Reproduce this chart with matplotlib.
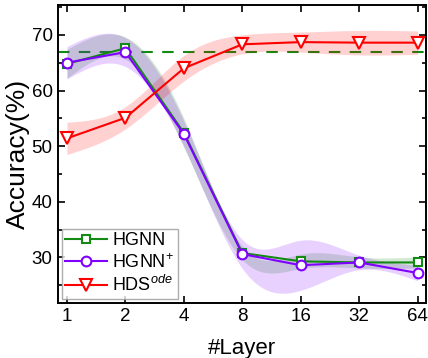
import numpy as np
import matplotlib
matplotlib.use('Agg')
import matplotlib.pyplot as plt
from matplotlib.ticker import MultipleLocator

plt.rcParams['font.family'] = ['Liberation Sans', 'DejaVu Sans']
plt.rcParams['mathtext.fontset'] = 'custom'
plt.rcParams['mathtext.rm'] = 'Liberation Sans'
plt.rcParams['mathtext.it'] = 'Liberation Sans:italic'

# data
layers = ['1', '2', '4', '8', '16', '32', '64']
hgnn = [64.8, 67.6, 52.4, 30.8, 29.3, 29.1, 29.1]
hgnn_std = [2.6, 2.0, 2.6, 1.2, 1.3, 1.0, 1.0]
hgnn_plus = [65.0, 66.9, 52.2, 30.6, 28.6, 29.1, 27.2]
hgnn_plus_std = [2.9, 2.6, 2.3, 2.6, 4.5, 1.3, 1.4]
hds_ode = [51.4, 55.1, 64.0, 68.3, 68.7, 68.6, 68.6]
hds_ode_std = [2.9, 2.0, 2.3, 1.7, 1.8, 2.2, 2.1]
baseline = 67.0


def smooth(x, y, n=300):
    # natural cubic spline, only used to draw the shaded bands
    x = np.asarray(x, float)
    y = np.asarray(y, float)
    k = len(x)
    h = np.diff(x)
    A = np.zeros((k, k))
    b = np.zeros(k)
    A[0, 0] = A[-1, -1] = 1
    for i in range(1, k - 1):
        A[i, i - 1] = h[i - 1]
        A[i, i] = 2 * (h[i - 1] + h[i])
        A[i, i + 1] = h[i]
        b[i] = 6 * ((y[i + 1] - y[i]) / h[i] - (y[i] - y[i - 1]) / h[i - 1])
    m = np.linalg.solve(A, b)
    xs = np.linspace(x[0], x[-1], n)
    idx = np.clip(np.searchsorted(x, xs) - 1, 0, k - 2)
    t = xs - x[idx]
    hi = h[idx]
    a = (m[idx + 1] - m[idx]) / (6 * hi)
    bb = m[idx] / 2
    c = (y[idx + 1] - y[idx]) / hi - hi * (2 * m[idx] + m[idx + 1]) / 6
    return xs, y[idx] + c * t + bb * t ** 2 + a * t ** 3


fig, ax = plt.subplots(figsize=(4.28, 3.58), dpi=100)
fig.subplots_adjust(left=0.136, right=0.995, top=0.985, bottom=0.155)

x = np.arange(len(layers))
series = [
    ('HGNN', hgnn, hgnn_std, '#138a13', 's', 6),
    ('HGNN$^{+}$', hgnn_plus, hgnn_plus_std, '#8000ff', 'o', 7),
    ('HDS$^{ode}$', hds_ode, hds_ode_std, '#ff0000', 'v', 8),
]

for name, vals, std, col, mk, ms in series:
    v = np.array(vals)
    s = np.array(std)
    xs, lo = smooth(x, v - s)
    _, up = smooth(x, v + s)
    ax.fill_between(xs, lo, up, color=col, alpha=0.18, linewidth=0, zorder=1)

# dashed reference line sits under the bands
ax.axhline(baseline, color='#138a13', linestyle=(0, (5.5, 4.5)), linewidth=1.5, zorder=0.5)

for name, vals, std, col, mk, ms in series:
    ax.plot(x, vals, color=col, marker=mk, markersize=ms,
            markerfacecolor='white', markeredgecolor=col, markeredgewidth=1.5,
            linewidth=1.5, label=name, zorder=3)

ax.set_xlim(-0.15, 6.14)
ax.set_ylim(21.9, 75.3)
ax.set_xticks(x)
ax.set_xticklabels(layers)
ax.yaxis.set_major_locator(MultipleLocator(10))
ax.yaxis.set_minor_locator(MultipleLocator(5))
ax.tick_params(which='both', direction='in', top=True, right=True, labelsize=13.5, width=1.2)
ax.tick_params(which='major', length=5, pad=4)
ax.tick_params(which='minor', length=3)
for sp in ax.spines.values():
    sp.set_linewidth(1.4)

ax.set_xlabel('#Layer', fontsize=16, labelpad=9)
ax.set_ylabel('Accuracy(%)', fontsize=19, labelpad=1)

leg = ax.legend(loc='lower left', fontsize=13, handlelength=2.3, handletextpad=0.3,
                borderpad=0.2, labelspacing=0.2, fancybox=False, borderaxespad=0.2)
leg.get_frame().set_edgecolor('#999999')
leg.get_frame().set_linewidth(1.0)

plt.savefig('out.png', dpi=100)
